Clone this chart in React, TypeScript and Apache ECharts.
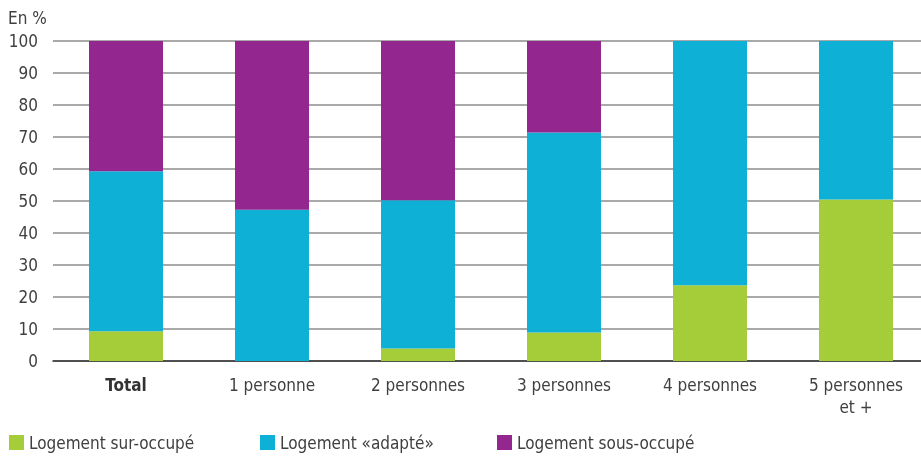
import React, { useEffect, useRef } from "react";
import * as echarts from "echarts";

const categories = ["Total", "1 personne", "2 personnes", "3 personnes", "4 personnes", "5 personnes\net +"];
const surOccupe = [9.3, 0, 3.9, 8.9, 23.7, 50.5];
const adapte = [50.0, 47.3, 46.3, 62.5, 76.3, 49.5];
const sousOccupe = [40.7, 52.7, 49.8, 28.6, 0, 0];
const seriesNames = ["Logement sur-occupé", "Logement «adapté»", "Logement sous-occupé"];
const colors = ["#a4cd39", "#0fb0d5", "#93278f"];

const FONT = "'Liberation Sans Narrow', 'DejaVu Sans Condensed', 'Liberation Sans', sans-serif";

export default function App() {
  const ref = useRef<HTMLDivElement>(null);
  useEffect(() => {
    if (!ref.current) return;
    const chart = echarts.init(ref.current, null, { renderer: "svg" });
    const legendLefts = [4, 255, 492];
    chart.setOption({
      animation: false,
      textStyle: { fontFamily: FONT },
      grid: { left: 53, top: 41, height: 320, width: 876, outerBoundsMode: "none", containLabel: false },
      legend: seriesNames.map((n, i) => ({
        data: [n],
        left: legendLefts[i],
        top: 429,
        itemWidth: 15,
        itemHeight: 15,
        itemGap: 6,
        icon: "rect",
        textStyle: { fontSize: 17, color: "#404040", fontFamily: FONT },
      })),
      graphic: [
        {
          type: "text",
          left: 8,
          top: 9,
          style: { text: "En %", fontSize: 17, fill: "#404040", fontFamily: FONT },
        },
      ],
      xAxis: {
        type: "category",
        data: categories,
        axisTick: { show: false },
        axisLine: { lineStyle: { color: "#333", width: 1.5 } },
        axisLabel: {
          margin: 13,
          fontSize: 17,
          color: "#404040",
          fontFamily: FONT,
          lineHeight: 22,
          formatter: (v: string) => (v === "Total" ? "{b|Total}" : v),
          rich: { b: { fontWeight: "bold", fontSize: 17, color: "#333", fontFamily: FONT } },
        },
      },
      yAxis: {
        type: "value",
        min: 0,
        max: 100,
        interval: 10,
        axisLine: { show: false },
        axisTick: { show: false },
        axisLabel: { margin: 15, fontSize: 17, color: "#404040", fontFamily: FONT },
        splitLine: { lineStyle: { color: "#8c8c8c", width: 1.5 } },
      },
      series: [surOccupe, adapte, sousOccupe].map((d, i) => ({
        name: seriesNames[i],
        type: "bar",
        stack: "total",
        barWidth: 74,
        data: d,
        itemStyle: { color: colors[i] },
      })),
    });
    return () => chart.dispose();
  }, []);
  return <div ref={ref} style={{ position: "fixed", left: 0, top: 0, width: 921, height: 456 }} />;
}
